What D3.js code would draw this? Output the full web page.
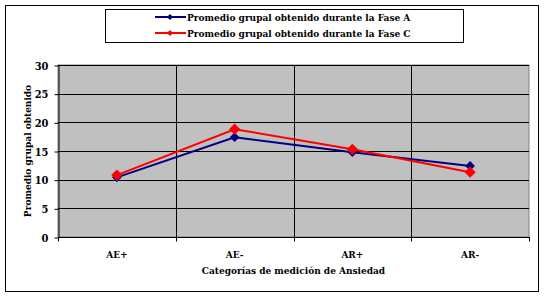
<!DOCTYPE html>
<html>
<head>
<meta charset="utf-8">
<script src="https://cdn.jsdelivr.net/npm/d3@7"></script>
<style>
  body { margin: 0; background: #fff; }
</style>
</head>
<body>
<div id="chart"></div>
<script>
// data
const categories = ["AE+", "AE-", "AR+", "AR-"];
const faseA = [10.4, 17.4, 14.8, 12.4];
const faseC = [10.8, 18.8, 15.3, 11.3];
const seriesNames = [
  "Promedio grupal obtenido durante la Fase A",
  "Promedio grupal obtenido durante la Fase C"
];
const seriesColors = ["#000080", "#ff0000"];
const yTicks = [0, 5, 10, 15, 20, 25, 30];

const width = 544,
  height = 297,
  plot = { left: 58, right: 529, top: 65, bottom: 237 },
  font = "'DejaVu Serif Condensed', 'DejaVu Serif', serif";

const svg = d3
  .select("#chart")
  .append("svg")
  .attr("width", width)
  .attr("height", height)
  .style("font-family", font)
  .style("font-stretch", "condensed")
  .style("font-weight", "bold");

// outer frame
svg
  .append("rect")
  .attr("x", 5.5)
  .attr("y", 5.5)
  .attr("width", 533)
  .attr("height", 286)
  .attr("fill", "#fff")
  .attr("stroke", "#000");

const x = d3
  .scaleBand()
  .domain(categories)
  .range([plot.left, plot.right]);

const y = d3
  .scaleLinear()
  .domain([0, 30])
  .range([plot.bottom, plot.top]);

// plot background
svg
  .append("rect")
  .attr("x", plot.left)
  .attr("y", plot.top)
  .attr("width", plot.right - plot.left)
  .attr("height", plot.bottom - plot.top)
  .attr("fill", "#c0c0c0")
  .attr("stroke", "#808080");

// horizontal grid
svg
  .append("g")
  .selectAll("line")
  .data(yTicks.filter((d) => d > 0))
  .join("line")
  .attr("x1", plot.left)
  .attr("x2", plot.right)
  .attr("y1", (d) => Math.round(y(d)) + 0.5)
  .attr("y2", (d) => Math.round(y(d)) + 0.5)
  .attr("stroke", "#000");

// vertical grid at category boundaries
const bounds = categories.slice(1).map((c) => x(c));
svg
  .append("g")
  .selectAll("line")
  .data(bounds)
  .join("line")
  .attr("x1", (d) => Math.round(d) + 0.5)
  .attr("x2", (d) => Math.round(d) + 0.5)
  .attr("y1", plot.top)
  .attr("y2", plot.bottom)
  .attr("stroke", "#000");

// y axis
const yAxis = svg
  .append("g")
  .attr("transform", `translate(${plot.left + 0.5},0.5)`)
  .call(d3.axisLeft(y).tickValues(yTicks).tickSize(4).tickSizeOuter(0).tickPadding(6));
yAxis.attr("font-family", null).attr("font-size", null);
yAxis.select(".domain").attr("stroke", "#000");
yAxis.selectAll("text").style("font-size", "11px");

// x axis
const xAxisG = svg
  .append("g")
  .attr("transform", `translate(0,${plot.bottom + 0.5})`);
xAxisG
  .append("line")
  .attr("x1", plot.left)
  .attr("x2", plot.right + 1)
  .attr("stroke", "#000");
xAxisG
  .selectAll("line.tick")
  .data([plot.left, ...bounds, plot.right])
  .join("line")
  .attr("class", "tick")
  .attr("x1", (d) => Math.round(d) + 0.5)
  .attr("x2", (d) => Math.round(d) + 0.5)
  .attr("y1", 0)
  .attr("y2", 4)
  .attr("stroke", "#000");
xAxisG
  .selectAll("text")
  .data(categories)
  .join("text")
  .attr("x", (d) => x(d) + x.bandwidth() / 2)
  .attr("y", 20)
  .attr("text-anchor", "middle")
  .style("font-size", "10px")
  .text((d) => d);

// axis titles
svg
  .append("text")
  .attr("x", (plot.left + plot.right) / 2)
  .attr("y", 274)
  .attr("text-anchor", "middle")
  .style("font-size", "10px")
  .text("Categorías de medición de Ansiedad");

svg
  .append("text")
  .attr("transform", `translate(31,${(plot.top + plot.bottom) / 2}) rotate(-90)`)
  .attr("text-anchor", "middle")
  .style("font-size", "10px")
  .text("Promedio grupal obtenido");

// lines
const line = d3
  .line()
  .x((d, i) => x(categories[i]) + x.bandwidth() / 2)
  .y((d) => y(d));

const diamond = d3.symbol().type(d3.symbolDiamond2);

[faseA, faseC].forEach((values, k) => {
  const g = svg.append("g");
  g.append("path")
    .datum(values)
    .attr("d", line)
    .attr("fill", "none")
    .attr("stroke", seriesColors[k])
    .attr("stroke-width", 2);
  g.selectAll("path.mark")
    .data(values)
    .join("path")
    .attr("class", "mark")
    .attr("transform", (d, i) => `translate(${x(categories[i]) + x.bandwidth() / 2},${y(d)})`)
    .attr("d", diamond.size(k === 0 ? 60 : 80))
    .attr("fill", seriesColors[k]);
});

// legend
svg
  .append("rect")
  .attr("x", 105.5)
  .attr("y", 9.5)
  .attr("width", 358)
  .attr("height", 33)
  .attr("fill", "#fff")
  .attr("stroke", "#000");

seriesNames.forEach((name, k) => {
  const ly = 17 + k * 16;
  svg
    .append("line")
    .attr("x1", 155)
    .attr("x2", 186)
    .attr("y1", ly)
    .attr("y2", ly)
    .attr("stroke", seriesColors[k])
    .attr("stroke-width", 2);
  svg
    .append("path")
    .attr("transform", `translate(170,${ly})`)
    .attr("d", diamond.size(24))
    .attr("fill", seriesColors[k]);
  svg
    .append("text")
    .attr("x", 187)
    .attr("y", ly + 4)
    .style("font-size", "10px")
    .text(name);
});
</script>
</body>
</html>
